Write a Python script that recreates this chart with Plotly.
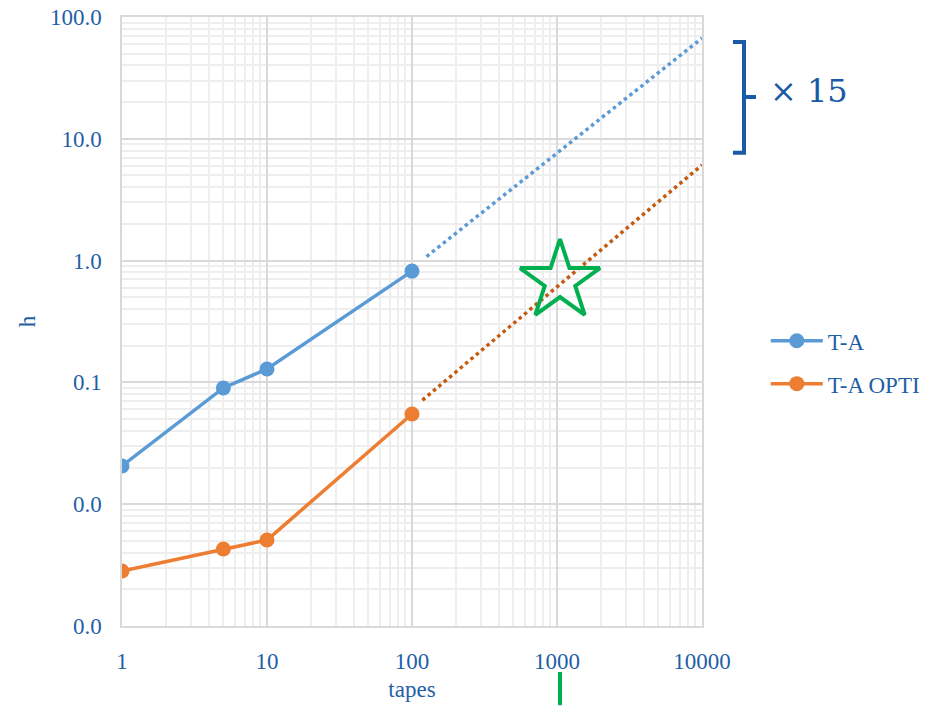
import plotly.graph_objects as go

# ---- data ----
tapes = [1, 5, 10, 100]
ta_hours = [0.0206, 0.090, 0.129, 0.82]
ta_opti_hours = [0.00283, 0.00429, 0.00508, 0.055]

# dotted forecast trendlines (endpoints)
ta_trend_x = [126, 10000]
ta_trend_y = [1.08, 67.0]
opti_trend_x = [118, 10000]
opti_trend_y = [0.0716, 6.1]

star_x = [1049]
star_y = [0.68]

x_tickvals = [1, 10, 100, 1000, 10000]
x_ticktext = ["1", "10", "100", "1000", "10000"]
y_tickvals = [0.001, 0.01, 0.1, 1, 10, 100]
y_ticktext = ["0.0", "0.0", "0.1", "1.0", "10.0", "100.0"]

BLUE = "#5B9BD5"
ORANGE = "#ED7D31"
ORANGE_DARK = "#C55A11"
GREEN = "#00B050"
TEXT = "#1F5FA6"
FONT = "Liberation Serif"

fig = go.Figure()

fig.add_trace(go.Scatter(x=ta_trend_x, y=ta_trend_y, mode="lines",
                         line=dict(color=BLUE, width=3.5, dash="dot"),
                         showlegend=False, hoverinfo="skip"))
fig.add_trace(go.Scatter(x=opti_trend_x, y=opti_trend_y, mode="lines",
                         line=dict(color=ORANGE_DARK, width=3.5, dash="dot"),
                         showlegend=False, hoverinfo="skip"))

fig.add_trace(go.Scatter(x=tapes, y=ta_hours, mode="lines+markers", name="T-A",
                         legendgroup="a",
                         line=dict(color=BLUE, width=3.5),
                         marker=dict(color=BLUE, size=15)))
fig.add_trace(go.Scatter(x=tapes, y=ta_opti_hours, mode="lines+markers", name="T-A OPTI",
                         legendgroup="b",
                         line=dict(color=ORANGE, width=3.5),
                         marker=dict(color=ORANGE, size=15)))

fig.add_trace(go.Scatter(x=star_x, y=star_y, mode="markers", showlegend=False,
                         hoverinfo="skip",
                         marker=dict(symbol="star-open", size=60,
                                     color=GREEN, line=dict(color=GREEN, width=4))))

axis_common = dict(
    type="log", automargin=False,
    showgrid=True, gridcolor="#D9D9D9", gridwidth=1.5,
    showline=True, linecolor="#D9D9D9", linewidth=1.5, mirror=True,
    ticks="", ticklabelstandoff=14,
    tickfont=dict(family=FONT, size=23, color=TEXT),
    minor=dict(dtick="D1", showgrid=True, gridcolor="#EEEEEE", gridwidth=1.5),
    zeroline=False,
)

fig.update_xaxes(**axis_common, range=[0, 4], tickvals=x_tickvals, ticktext=x_ticktext,
                 title=dict(text="tapes", font=dict(family=FONT, size=23, color=TEXT), standoff=8))
fig.update_yaxes(**axis_common, range=[-3, 2], tickvals=y_tickvals, ticktext=y_ticktext,
                 title=dict(text="h", font=dict(family=FONT, size=23, color=TEXT), standoff=8))

# bracket "× 15"
BR = "#1A5AA6"
fig.add_shape(type="path", xref="paper", yref="paper",
              path="M 1.0534 0.959 L 1.0724 0.959 L 1.0724 0.777 L 1.0534 0.777",
              line=dict(color=BR, width=4))
fig.add_shape(type="line", xref="paper", yref="paper",
              x0=1.0724, x1=1.0931, y0=0.8686, y1=0.8686,
              line=dict(color=BR, width=4))
fig.add_annotation(xref="paper", yref="paper", x=1.113, y=0.878, xanchor="left", yanchor="middle",
                   text="× 15", showarrow=False,
                   font=dict(family="DejaVu Serif", size=32, color=BR))

# green tick below the axis
fig.add_shape(type="line", xref="x", yref="paper", x0=star_x[0], x1=star_x[0],
              y0=-0.0755, y1=-0.13, line=dict(color=GREEN, width=4))

fig.update_layout(
    width=944, height=706,
    margin=dict(l=122, r=242, t=17, b=80, autoexpand=False),
    paper_bgcolor="white", plot_bgcolor="white",
    font=dict(family=FONT, size=23, color=TEXT),
    legend=dict(x=1.11, y=0.433, xanchor="left", yanchor="middle",
                font=dict(family=FONT, size=23, color=TEXT),
                itemwidth=52,
                tracegroupgap=10, bgcolor="rgba(0,0,0,0)"),
    showlegend=True,
)

fig.write_html("out.html", config={"displayModeBar": False},
               post_script="document.body.style.margin='0px';document.body.style.overflow='hidden';")
